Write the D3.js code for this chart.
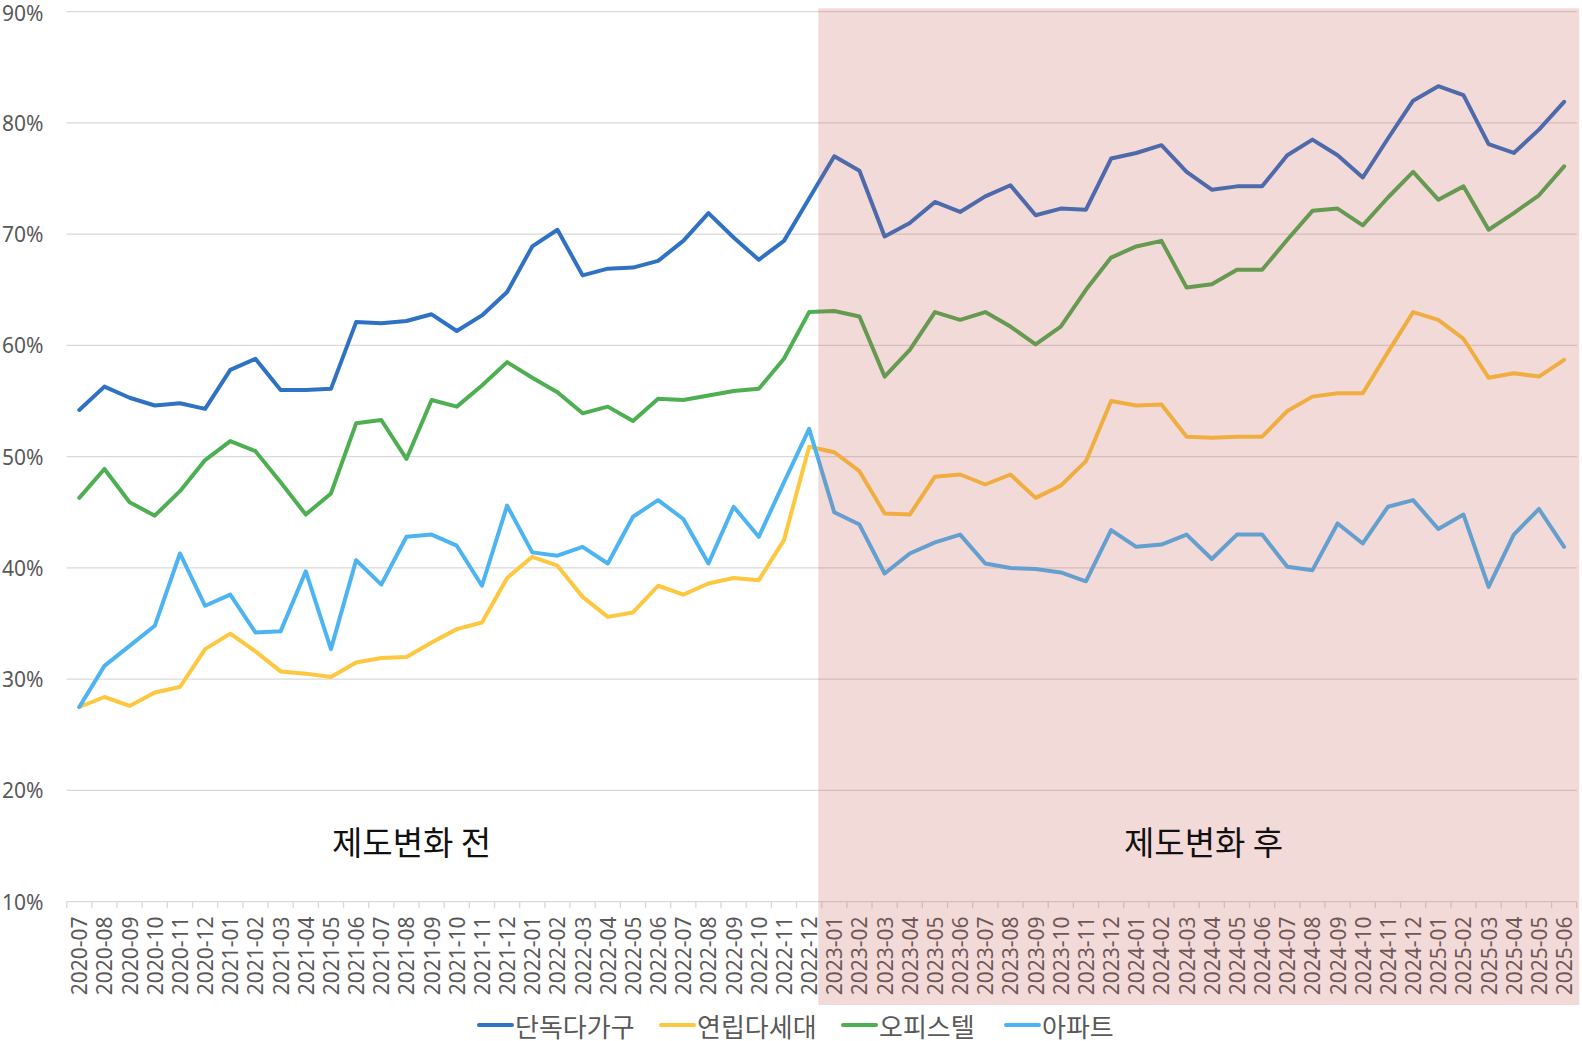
<!DOCTYPE html>
<html>
<head>
<meta charset="utf-8">
<script src="https://cdn.jsdelivr.net/npm/d3@7"></script>
<style>
html,body{margin:0;padding:0;background:#fff;}
svg{display:block;}
</style>
</head>
<body>
<svg id="chart" width="1582" height="1041"></svg>
<script>
const months = [
"2020-07","2020-08","2020-09","2020-10","2020-11","2020-12",
"2021-01","2021-02","2021-03","2021-04","2021-05","2021-06","2021-07","2021-08","2021-09","2021-10","2021-11","2021-12",
"2022-01","2022-02","2022-03","2022-04","2022-05","2022-06","2022-07","2022-08","2022-09","2022-10","2022-11","2022-12",
"2023-01","2023-02","2023-03","2023-04","2023-05","2023-06","2023-07","2023-08","2023-09","2023-10","2023-11","2023-12",
"2024-01","2024-02","2024-03","2024-04","2024-05","2024-06","2024-07","2024-08","2024-09","2024-10","2024-11","2024-12",
"2025-01","2025-02","2025-03","2025-04","2025-05","2025-06"];

const seriesNames = ["단독다가구","연립다세대","오피스텔","아파트"];
const seriesColors = ["#2f72c4","#fdc73f","#4eae52","#4db4f2"];

const detached = [54.2,56.3,55.3,54.6,54.8,54.3,57.8,58.8,56.0,56.0,56.1,62.1,62.0,62.2,62.8,61.3,62.7,64.8,
68.9,70.4,66.3,66.9,67.0,67.6,69.4,71.9,69.7,67.7,69.4,73.2,
77.0,75.7,69.8,71.0,72.9,72.0,73.4,74.4,71.7,72.3,72.2,76.8,
77.3,78.0,75.6,74.0,74.3,74.3,77.1,78.5,77.1,75.1,78.6,82.0,
83.3,82.5,78.1,77.3,79.4,81.9];

const rowhouse = [27.5,28.4,27.6,28.8,29.3,32.7,34.1,32.5,30.7,30.5,30.2,31.5,31.9,32.0,33.3,34.5,35.1,39.1,
41.0,40.2,37.4,35.6,36.0,38.4,37.6,38.6,39.1,38.9,42.5,50.9,
50.4,48.7,44.9,44.8,48.2,48.4,47.5,48.4,46.3,47.4,49.6,55.0,
54.6,54.7,51.8,51.7,51.8,51.8,54.1,55.4,55.7,55.7,59.4,63.0,
62.3,60.6,57.1,57.5,57.2,58.7];

const officetel = [46.3,48.9,45.9,44.7,46.9,49.7,51.4,50.5,47.7,44.8,46.7,53.0,53.3,49.8,55.1,54.5,56.4,58.5,
57.1,55.8,53.9,54.5,53.2,55.2,55.1,55.5,55.9,56.1,58.8,63.0,
63.1,62.6,57.2,59.6,63.0,62.3,63.0,61.7,60.1,61.7,65.0,67.9,
68.9,69.4,65.2,65.5,66.8,66.8,69.5,72.1,72.3,70.8,73.3,75.6,
73.1,74.3,70.4,71.9,73.5,76.1];

const apartment = [27.5,31.2,33.0,34.8,41.3,36.6,37.6,34.2,34.3,39.7,32.7,40.7,38.5,42.8,43.0,42.0,38.4,45.6,
41.4,41.1,41.9,40.4,44.6,46.1,44.4,40.4,45.5,42.8,47.7,52.5,
45.0,43.9,39.5,41.3,42.3,43.0,40.4,40.0,39.9,39.6,38.8,43.4,
41.9,42.1,43.0,40.8,43.0,43.0,40.1,39.8,44.0,42.2,45.5,46.1,
43.5,44.8,38.3,43.0,45.3,41.9];

const yTicks = [10,20,30,40,50,60,70,80,90];
const shadeStart = "2023-01";
const periodLabels = ["제도변화 전","제도변화 후"];

const allSeries = [detached, rowhouse, officetel, apartment];

(function draw(){
const svg = d3.select("#chart");
const pLeft = 66.7, pRight = 1576.7, pTop = 11.7, pBottom = 901.7;
const x = d3.scaleBand().domain(months).range([pLeft, pRight]).padding(0);
const y = d3.scaleLinear().domain([10,90]).range([pBottom, pTop]);
const bw = x.bandwidth();
const cx = m => x(m) + bw/2;

const textColor = "#595959";
const font = "'Noto Sans','Noto Sans CJK KR',sans-serif";

// gridlines
svg.append("g").selectAll("line").data(yTicks).join("line")
  .attr("x1", pLeft).attr("x2", pRight)
  .attr("y1", d => y(d)).attr("y2", d => y(d))
  .attr("stroke", "#d9d9d9").attr("stroke-width", 1.3);

// x tick marks at band boundaries
const bounds = months.map(m => x(m)).concat([pRight]);
svg.append("g").selectAll("line").data(bounds).join("line")
  .attr("x1", d => d).attr("x2", d => d)
  .attr("y1", pBottom).attr("y2", pBottom + 6.5)
  .attr("stroke", "#d9d9d9").attr("stroke-width", 1.3);

// y labels
svg.append("g").selectAll("text").data(yTicks).join("text")
  .attr("x", 43.5).attr("y", d => Math.max(y(d), 13))
  .attr("text-anchor", "end").attr("dominant-baseline", "central")
  .attr("font-family", font).attr("font-size", 21).attr("fill", textColor)
  .text(d => d + "%");

// x labels
svg.append("g").selectAll("text").data(months).join("text")
  .attr("transform", d => `translate(${cx(d)},916.5) rotate(-90)`)
  .attr("text-anchor", "end").attr("dominant-baseline", "central")
  .attr("font-family", font).attr("font-size", 21).attr("fill", textColor)
  .text(d => d);

// lines
const line = d3.line().x((d,i) => cx(months[i])).y(d => y(d));
svg.append("g").selectAll("path").data(allSeries).join("path")
  .attr("d", d => line(d))
  .attr("fill", "none")
  .attr("stroke", (d,i) => seriesColors[i])
  .attr("stroke-width", 4)
  .attr("stroke-linejoin", "round")
  .attr("stroke-linecap", "round");

// shaded overlay (after change)
const sx = x(shadeStart) - 3.4;
svg.append("rect")
  .attr("x", sx).attr("y", pTop - 3.4)
  .attr("width", pRight + 2.6 - sx).attr("height", 1005 - (pTop - 3.4))
  .attr("fill", "#c0504d").attr("fill-opacity", 0.21);

// period annotations
svg.append("text").attr("x", 411.6).attr("y", 841)
  .attr("text-anchor", "middle").attr("dominant-baseline", "central")
  .attr("font-family", "'Noto Sans CJK KR',sans-serif").attr("font-size", 33).attr("fill", "#111")
  .text(periodLabels[0]);
svg.append("text").attr("x", 1203.6).attr("y", 841)
  .attr("text-anchor", "middle").attr("dominant-baseline", "central")
  .attr("font-family", "'Noto Sans CJK KR',sans-serif").attr("font-size", 33).attr("fill", "#111")
  .text(periodLabels[1]);

// legend
const legendX = [479, 661, 843, 1006];
const lg = svg.append("g").selectAll("g").data(seriesNames).join("g")
  .attr("transform", (d,i) => `translate(${legendX[i]},1025)`);
lg.append("line").attr("x1", 0).attr("x2", 33).attr("y1", 0).attr("y2", 0)
  .attr("stroke", (d,i) => seriesColors[i]).attr("stroke-width", 4).attr("stroke-linecap", "round");
lg.append("text").attr("x", 36).attr("y", 0)
  .attr("dominant-baseline", "central")
  .attr("font-family", "'Noto Sans CJK KR',sans-serif").attr("font-size", 26).attr("fill", textColor)
  .text(d => d);
})();
</script>
</body>
</html>
